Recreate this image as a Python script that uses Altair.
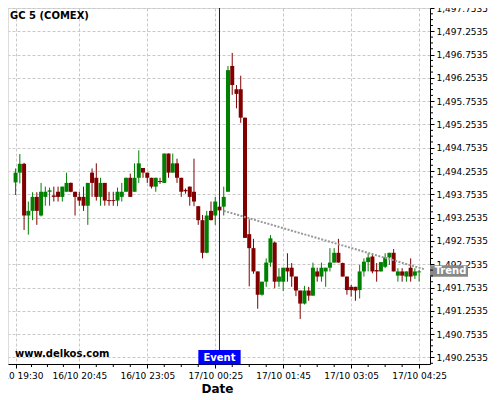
import altair as alt
import pandas as pd

# ---- data (5-minute candles, index based) ----
opens = [1494.01, 1494.22, 1494.41, 1493.30, 1493.40, 1493.70, 1493.30, 1493.70, 1493.81, 1493.73,
         1493.81, 1493.70, 1493.81, 1494.00, 1493.81, 1493.70, 1493.70, 1493.51, 1494.22, 1494.11,
         1493.70, 1494.00, 1493.63, 1493.63, 1493.62, 1493.70, 1493.81, 1494.11, 1493.81, 1494.11,
         1494.32, 1494.22, 1494.11, 1493.92, 1494.04, 1494.00, 1494.63, 1494.22, 1494.42, 1494.11,
         1493.85, 1493.92, 1493.81, 1493.50, 1493.20, 1492.50, 1493.40, 1493.30, 1493.49, 1493.49,
         1493.81, 1496.51, 1496.01, 1496.01, 1495.40, 1492.90, 1492.60, 1492.10, 1491.60, 1491.88,
         1492.29, 1492.72, 1491.88, 1491.88, 1492.18, 1492.18, 1491.99, 1491.69, 1491.41, 1491.69,
         1491.58, 1492.10, 1491.99, 1492.10, 1492.18, 1492.29, 1492.50, 1492.28, 1491.99, 1491.77,
         1491.77, 1491.70, 1492.10, 1492.30, 1492.42, 1492.13, 1492.10, 1492.20, 1492.40, 1492.50,
         1492.01, 1492.10, 1491.99, 1492.18, 1492.01, 1492.08]
highs = [1494.31, 1494.62, 1494.43, 1493.60, 1493.80, 1493.80, 1494.00, 1493.92, 1493.90, 1493.92,
         1493.92, 1493.92, 1494.22, 1494.01, 1493.81, 1493.81, 1493.92, 1494.00, 1494.31, 1494.42,
         1494.11, 1494.00, 1493.81, 1493.81, 1493.90, 1494.00, 1494.11, 1494.20, 1494.42, 1494.70,
         1494.32, 1494.22, 1494.11, 1494.11, 1494.11, 1494.63, 1494.63, 1494.63, 1494.52, 1494.11,
         1493.88, 1493.92, 1494.52, 1493.50, 1493.31, 1493.40, 1493.60, 1493.70, 1493.52, 1493.92,
         1496.51, 1496.79, 1496.10, 1496.30, 1495.40, 1493.22, 1492.80, 1492.10, 1491.88, 1492.38,
         1492.88, 1492.74, 1492.17, 1492.18, 1492.49, 1492.28, 1491.99, 1491.69, 1491.79, 1491.77,
         1492.29, 1492.18, 1492.29, 1492.18, 1492.60, 1492.60, 1492.80, 1492.29, 1491.99, 1491.81,
         1491.77, 1492.24, 1492.38, 1492.49, 1492.49, 1492.28, 1492.30, 1492.49, 1492.50, 1492.58,
         1492.17, 1492.17, 1492.10, 1492.38, 1492.17, 1492.13]
lows = [1493.74, 1493.99, 1492.99, 1492.89, 1493.20, 1493.10, 1493.28, 1493.51, 1493.51, 1493.60,
        1493.60, 1493.60, 1493.81, 1493.80, 1493.30, 1493.51, 1493.40, 1493.10, 1493.70, 1493.62,
        1493.51, 1493.51, 1493.51, 1493.51, 1493.50, 1493.60, 1493.81, 1493.70, 1493.81, 1494.00,
        1494.11, 1494.00, 1493.88, 1493.81, 1493.98, 1494.00, 1494.11, 1494.22, 1494.00, 1493.70,
        1493.77, 1493.51, 1493.50, 1493.10, 1492.38, 1492.49, 1493.20, 1493.10, 1493.38, 1493.30,
        1493.81, 1495.89, 1495.60, 1495.29, 1492.82, 1491.78, 1492.05, 1491.30, 1491.58, 1491.77,
        1492.20, 1491.74, 1491.77, 1491.68, 1491.88, 1491.77, 1491.57, 1491.08, 1491.39, 1491.47,
        1491.58, 1491.88, 1491.88, 1491.77, 1492.10, 1492.29, 1492.29, 1491.99, 1491.60, 1491.56,
        1491.47, 1491.52, 1491.99, 1492.10, 1492.06, 1491.88, 1492.10, 1492.17, 1492.24, 1492.10,
        1491.88, 1491.88, 1491.88, 1491.88, 1491.94, 1491.88]
closes = [1494.22, 1494.41, 1493.30, 1493.40, 1493.70, 1493.40, 1493.81, 1493.81, 1493.84, 1493.70,
          1493.70, 1493.92, 1494.00, 1493.81, 1493.70, 1493.62, 1493.51, 1494.00, 1494.00, 1493.70,
          1494.00, 1493.62, 1493.61, 1493.61, 1493.81, 1493.81, 1494.11, 1493.70, 1494.11, 1494.42,
          1494.22, 1494.11, 1493.92, 1494.11, 1494.02, 1494.63, 1494.22, 1494.42, 1494.11, 1493.81,
          1493.82, 1493.70, 1493.60, 1493.20, 1492.50, 1493.30, 1493.20, 1493.60, 1493.41, 1493.70,
          1496.42, 1496.10, 1495.91, 1495.40, 1492.82, 1492.60, 1492.10, 1491.60, 1491.88, 1492.29,
          1492.81, 1491.88, 1491.99, 1492.18, 1492.10, 1491.99, 1491.69, 1491.41, 1491.69, 1491.58,
          1492.18, 1491.99, 1492.18, 1492.18, 1492.29, 1492.50, 1492.29, 1491.99, 1491.70, 1491.70,
          1491.69, 1492.10, 1492.31, 1492.40, 1492.10, 1492.10, 1492.30, 1492.40, 1492.50, 1492.10,
          1492.10, 1492.01, 1492.10, 1491.99, 1492.10, 1492.10]

tick_idx = [0, 15, 31, 47, 63, 79, 95]
tick_labels = ["16/10 19:30", "16/10 20:45", "16/10 23:05", "17/10 00:25",
               "17/10 01:45", "17/10 03:05", "17/10 04:25"]
y_ticks = [1490.2535, 1490.7535, 1491.2535, 1491.7535, 1492.2535, 1492.7535, 1493.2535,
           1493.7535, 1494.2535, 1494.7535, 1495.2535, 1495.7535, 1496.2535, 1496.7535,
           1497.2535, 1497.7535]

event_idx = [48]
trend_idx = [49.0, 96.1]
trend_price = [1493.40, 1492.15]
trend_label_price = [1492.11]

chart_title = "GC 5 (COMEX)"
site_text = "www.delkos.com"

# ---- build tables ----
n = len(opens)
df = pd.DataFrame({"i": list(range(n)), "open": opens, "high": highs,
                   "low": lows, "close": closes})
df["dir"] = ["up" if c >= o else "down" for o, c in zip(opens, closes)]

minor_x = []
for a, b in zip(tick_idx[:-1], tick_idx[1:]):
    for k in (1, 2, 3):
        minor_x.append(a + (b - a) * k / 4)
minor_y = []
for a in y_ticks:
    for k in (1, 2, 3):
        v = a + 0.125 * k
        if v < 1497.75:
            minor_y.append(v)
minor_y.append(y_ticks[0] - 0.125)

W, H = 422, 356
GRID = "#c8c8c8"
FONT = "DejaVu Sans"

x_scale = alt.Scale(domain=[-0.609, 96.38], nice=False, zero=False)
y_scale = alt.Scale(domain=[1490.1135, 1497.7535], nice=False, zero=False)

mapping = "{" + ",".join(f"'{i}':'{l}'" for i, l in zip(tick_idx, tick_labels)) + "}"

x_axis = alt.Axis(values=tick_idx, labelExpr=mapping + "[datum.value]", title="Date",
                  tickCount=20,
                  grid=True, gridDash=[3, 2], gridColor=GRID, domainColor="black",
                  tickColor="black", tickSize=4, labelFontSize=9, labelFont=FONT,
                  labelColor="black", labelPadding=3, titleFont=FONT, titleFontSize=12,
                  titleFontWeight="bold", titleColor="black", titleX=209, titleY=24,
                  titleBaseline="middle", labelOverlap=False, labelFlush=False)
y_axis = alt.Axis(orient="right", values=y_ticks, format=",.4f", tickCount=40, grid=True,
                  gridDash=[3, 2], gridColor=GRID, domainColor="black", tickColor="black",
                  tickSize=4, labelFontSize=9, labelFont=FONT, labelColor="black",
                  labelPadding=2, title=None, labelOverlap=False, labelFlush=False)

color = alt.Color("dir:N", scale=alt.Scale(domain=["up", "down"],
                                           range=["#008000", "#800000"]), legend=None)

base = alt.Chart(df)
wick = base.mark_rule(strokeWidth=1).encode(
    x=alt.X("i:Q", scale=x_scale, axis=x_axis),
    y=alt.Y("low:Q", scale=y_scale, axis=y_axis),
    y2="high:Q",
    color=color,
)
body = base.mark_bar(size=4).encode(
    x="i:Q", y="open:Q", y2="close:Q", color=color,
)

trend = alt.Chart(pd.DataFrame({"i": trend_idx, "low": trend_price})).mark_line(
    strokeDash=[2, 1.5], strokeWidth=2, color="#999999").encode(x="i:Q", y="low:Q")

ev = pd.DataFrame({"i": event_idx, "t": ["Event"]})
event_rule = alt.Chart(ev).mark_rule(color="#0000ff", strokeWidth=1).encode(x="i:Q")
event_box = alt.Chart(ev).transform_calculate(
    x1="datum.i - 4.98", x2b="datum.i + 4.98"
).mark_rect(color="#0000ff").encode(
    x="x1:Q", x2="x2b:Q", y=alt.value(342), y2=alt.value(356.5))
event_text = alt.Chart(ev).mark_text(
    color="white", font=FONT, fontSize=10, fontWeight="bold", baseline="middle",
    align="center").encode(x="i:Q", y=alt.value(349.5), text="t:N")

tl = pd.DataFrame({"low": trend_label_price, "t": ["Trend"]})
trend_box = alt.Chart(tl).transform_calculate(
    ya="datum.low + 0.125", yb="datum.low - 0.125"
).mark_rect(color="#888888").encode(
    x=alt.value(422), x2=alt.value(460), y="ya:Q", y2="yb:Q")
trend_text = alt.Chart(tl).mark_text(
    color="white", font=FONT, fontSize=10, fontWeight="bold", baseline="middle",
    align="center").encode(x=alt.value(442.5), y="low:Q", text="t:N")

title = alt.Chart(pd.DataFrame({"t": [chart_title]})).mark_text(
    font=FONT, fontSize=10, fontWeight="bold", align="left", baseline="middle",
    color="black").encode(x=alt.value(2), y=alt.value(7.5), text="t:N")
site = alt.Chart(pd.DataFrame({"t": [site_text]})).mark_text(
    font=FONT, fontSize=10, fontWeight="bold", align="left", baseline="middle",
    color="black").encode(x=alt.value(7), y=alt.value(346), text="t:N")

xminor = alt.Chart(pd.DataFrame({"i": minor_x})).mark_rule(color="black").encode(
    x="i:Q", y=alt.value(H), y2=alt.value(H + 3))
yminor = alt.Chart(pd.DataFrame({"low": minor_y})).mark_rule(color="black").encode(
    y="low:Q", x=alt.value(W), x2=alt.value(W + 3))

chart = alt.layer(
    wick, body, trend, event_rule, title, site, event_box, event_text,
    trend_box, trend_text, xminor, yminor
).properties(
    width=W, height=H, autosize="none",
    padding={"left": 0, "top": 0, "right": 62, "bottom": 36},
).configure_view(stroke="transparent").configure(font=FONT, background="white")

chart.save("out.html", embed_options={"renderer": "svg", "actions": False})
